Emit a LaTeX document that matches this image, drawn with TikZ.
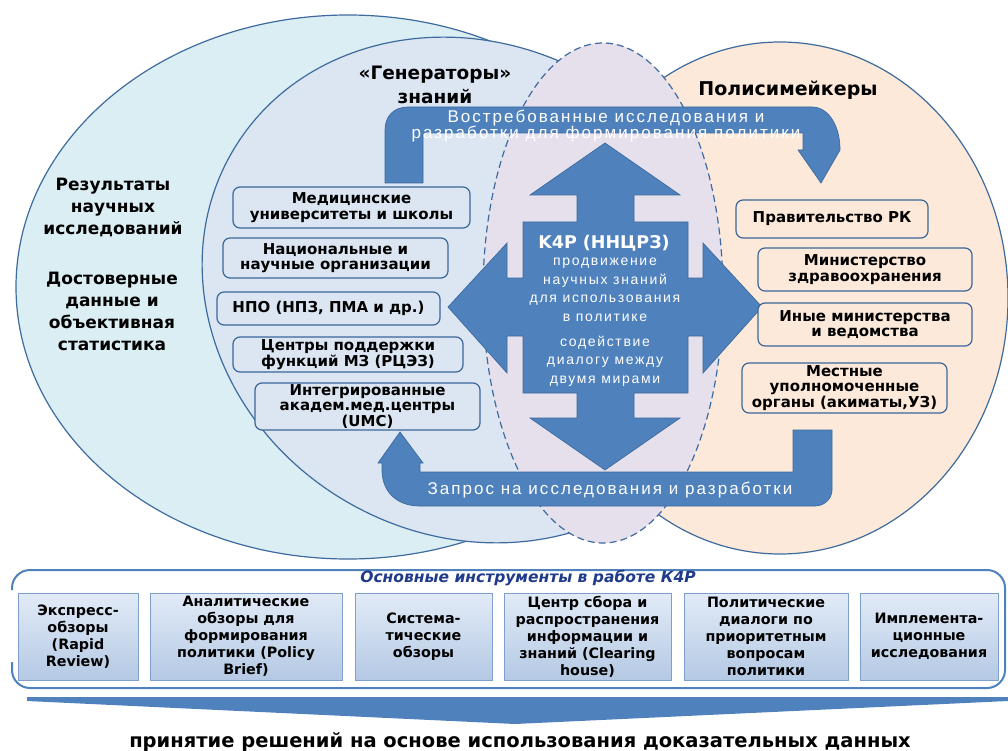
\documentclass[tikz,border=0pt]{standalone}
\usepackage{fontspec}
\setmainfont{DejaVu Sans}
\newfontfamily\spacedfont[LetterSpace=12]{Liberation Sans}
\usetikzlibrary{positioning}

\definecolor{bigfill}{HTML}{DAEEF3}
\definecolor{genfill}{HTML}{DCE6F2}
\definecolor{dashfill}{HTML}{E6E0EC}
\definecolor{polfill}{HTML}{FDE9D9}
\definecolor{ringline}{HTML}{3E6B9E}
\definecolor{arrowblue}{HTML}{4F81BD}
\definecolor{arrowline}{HTML}{3C6A9E}
\definecolor{boxline}{HTML}{3B6699}
\definecolor{toolline}{HTML}{7F9FCB}
\definecolor{tooltop}{HTML}{E2EBF7}
\definecolor{toolbot}{HTML}{B4C9E4}
\definecolor{titleblue}{HTML}{1F3A8A}

\tikzset{
  blob/.style={draw=ringline, line width=1.2pt},
  bigarrow/.style={fill=arrowblue, draw=arrowline, line width=0.7pt},
  lbox/.style={draw=boxline, line width=1.2pt, rounded corners=7pt, fill=genfill,
    align=center, inner sep=0.5pt, font=\bfseries\fontsize{15}{15.5}\selectfont},
  rbox/.style={lbox, fill=polfill},
  tool/.style={draw=toolline, line width=0.8pt, top color=tooltop, bottom color=toolbot,
    minimum height=87pt, align=center, inner sep=1pt,
    font=\bfseries\fontsize{14.3}{17}\selectfont},
  head/.style={align=center, font=\bfseries\fontsize{18.5}{24}\selectfont},
  sidetext/.style={align=center, font=\bfseries\fontsize{17}{22}\selectfont},
  bandtext/.style={text=white, align=center, font=\spacedfont\fontsize{17}{16.5}\selectfont},
  k4ptext/.style={text=white, align=center, font=\spacedfont\fontsize{14}{18.6}\selectfont}
}

\begin{document}
\begin{tikzpicture}[x=1pt,y=-1pt]
\useasboundingbox (0,0) rectangle (1008,751);

% three worlds
\draw[blob, fill=bigfill] (348,287) ellipse (332 and 272);
\draw[blob, fill=genfill, rotate around={-30:(470,290)}] (470,290) ellipse (275 and 245);
\draw[blob, fill=polfill] (780,298) ellipse (228 and 256);
\draw[ringline, line width=1.2pt, dash pattern=on 7pt off 4pt, fill=dashfill]
  (603,293) ellipse (120 and 250);

\node[head] (gen) at (435,85) {«Генераторы»\\знаний};
\node[head, font=\bfseries\fontsize{19}{24}\selectfont] (pol) at (788,90) {Полисимейкеры};
\node[sidetext] (res) at (113,207) {Результаты\\научных\\исследований};
\node[sidetext] (evid) at (112,311) {Достоверные\\данные и\\объективная\\статистика};

% bent arrows
\path[bigarrow] (385,183) -- (385,130) .. controls (385,117) and (393,107) .. (408,107)
  -- (812,107) .. controls (828,107) and (840,125) .. (840,150) -- (821,183)
  -- (798,150) -- (803,150) -- (803,133) -- (423,133) -- (423,183) -- cycle;
\path[bigarrow] (420,463) -- (423,463) -- (400,432) -- (378,463) -- (382,463)
  -- (382,470) .. controls (382,490) and (395,506) .. (420,506) -- (815,506)
  .. controls (825,506) and (832,498) .. (832,490) -- (832,430) -- (793,430)
  -- (793,472) -- (420,472) -- cycle;
\node[bandtext] (demand) at (606,126) {Востребованные исследования и\\разработки для формирования политики};
\node[bandtext] (request) at (610,490) {Запрос на исследования и разработки};

% four-way arrow
\path[bigarrow] (605,143) -- (680,195) -- (634,195) -- (634,222) -- (688,222)
  -- (688,278) -- (703,278) -- (703,243) -- (762,307) -- (703,373) -- (703,336)
  -- (688,336) -- (688,393) -- (634,393) -- (634,418) -- (680,418) -- (605,470)
  -- (530,418) -- (577,418) -- (577,393) -- (523,393) -- (523,336) -- (507,336)
  -- (507,373) -- (448,307) -- (507,243) -- (507,278) -- (523,278) -- (523,222)
  -- (577,222) -- (577,195) -- (530,195) -- cycle;
\node[text=white, font=\bfseries\fontsize{17.5}{20}\selectfont] (k4p) at (604,243) {K4P (ННЦРЗ)};
\node[k4ptext] (promo) at (605,290) {продвижение\\научных знаний\\для использования\\в политике};
\node[k4ptext] (dialog) at (605,361) {содействие\\диалогу между\\двумя мирами};

% knowledge generators
\node[lbox, minimum width=237pt, minimum height=41pt] (med) at (351.5,207.5) {Медицинские\\университеты и школы};
\node[lbox, minimum width=225pt, minimum height=40pt] (nat) at (335.5,258) {Национальные и\\научные организации};
\node[lbox, minimum width=223pt, minimum height=33pt] (npo) at (328.5,308.5) {НПО (НПЗ, ПМА и др.)};
\node[lbox, minimum width=230pt, minimum height=35pt] (rcez) at (348,354.5) {Центры поддержки\\функций МЗ (РЦЭЗ)};
\node[lbox, minimum width=225pt, minimum height=47pt] (umc) at (367.5,406.5) {Интегрированные\\академ.мед.центры\\(UMC)};

% policy makers
\node[rbox, minimum width=192pt, minimum height=38pt] (gov) at (832,219) {Правительство РК};
\node[rbox, minimum width=214pt, minimum height=43pt] (moh) at (865,269.5) {Министерство\\здравоохранения};
\node[rbox, minimum width=214pt, minimum height=43pt] (other) at (865,324.5) {Иные министерства\\и ведомства};
\node[rbox, minimum width=205pt, minimum height=50pt] (local) at (844.5,388) {Местные\\уполномоченные\\органы (акиматы,УЗ)};

% tools
\draw[arrowblue, line width=2pt, rounded corners=18pt]
  (12,590) -- (12,570) -- (1005,570) -- (1005,688) -- (12,688) -- (12,662);
\node[text=titleblue, font=\bfseries\itshape\fontsize{15.5}{16}\selectfont] (tooltitle) at (528,578) {Основные инструменты в работе К4Р};
\node[tool, minimum width=120pt] (rapid) at (78,636.5) {Экспресс-\\обзоры\\(Rapid\\Review)};
\node[tool, minimum width=192pt] (brief) at (246,636.5) {Аналитические\\обзоры для\\формирования\\политики (Policy\\Brief)};
\node[tool, minimum width=137pt] (sys) at (423.5,636.5) {Система-\\тические\\обзоры};
\node[tool, minimum width=167pt] (clear) at (587.5,636.5) {Центр сбора и\\распространения\\информации и\\знаний (Clearing\\house)};
\node[tool, minimum width=164pt] (dial) at (766,636.5) {Политические\\диалоги по\\приоритетным\\вопросам\\политики};
\node[tool, minimum width=138pt] (impl) at (929,636.5) {Имплемента-\\ционные\\исследования};

\path[fill=arrowblue] (27,697) -- (1008,697) -- (1008,701) -- (515,724) -- (27,701) -- cycle;
\node[font=\bfseries\fontsize{19.5}{21}\selectfont] (decision) at (520,742) {принятие решений на основе использования доказательных данных};
\end{tikzpicture}
\end{document}
